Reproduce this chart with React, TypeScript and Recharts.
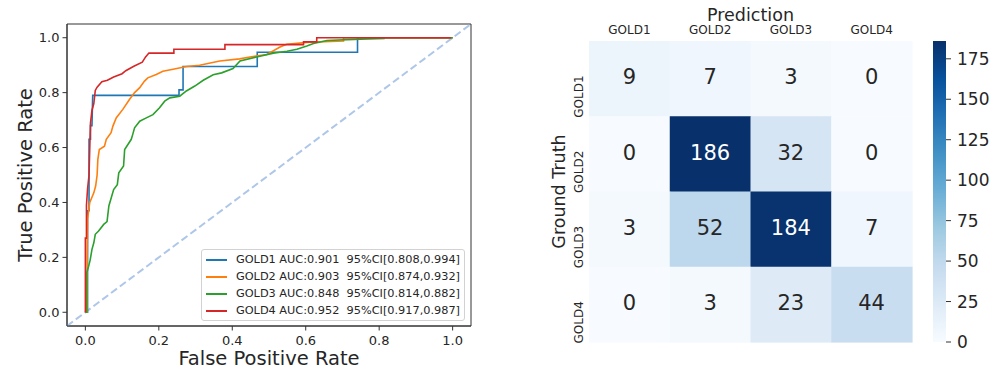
import {
  LineChart,
  Line,
  XAxis,
  YAxis,
  ReferenceLine,
  ReferenceArea,
  Legend,
  ScatterChart,
  Scatter,
  BarChart,
  Bar,
} from "recharts";

const FONT = "'DejaVu Sans', sans-serif";
const TEXT = "#262626";
const AXIS = "#333333";

// ROC panel
const classNames = ["GOLD1", "GOLD2", "GOLD3", "GOLD4"];
const rocColors = ["#1f77b4", "#ff7f0e", "#2ca02c", "#d62728"];
const aucValues = ["0.901", "0.903", "0.848", "0.952"];
const ciValues = ["[0.808,0.994]", "[0.874,0.932]", "[0.814,0.882]", "[0.917,0.987]"];
const rocTicks = [0, 0.2, 0.4, 0.6, 0.8, 1.0];
const rocDomain = [-0.05, 1.05];

// [fpr, tpr] pairs
const gold1Roc = [
  [0, 0], [0.006, 0], [0.006, 0.37], [0.01, 0.37], [0.01, 0.63], [0.014, 0.63],
  [0.014, 0.68], [0.018, 0.68], [0.02, 0.79], [0.255, 0.79], [0.255, 0.81],
  [0.266, 0.81], [0.266, 0.895], [0.468, 0.895], [0.468, 0.947], [0.741, 0.947],
  [0.741, 1.0], [1.0, 1.0],
];
const gold2Roc = [
  [0, 0], [0.005, 0], [0.005, 0.2], [0.006, 0.34], [0.012, 0.4], [0.023, 0.435],
  [0.028, 0.46], [0.032, 0.5], [0.034, 0.557], [0.038, 0.593], [0.052, 0.605],
  [0.057, 0.63], [0.07, 0.654], [0.075, 0.678], [0.084, 0.708], [0.102, 0.739],
  [0.12, 0.775], [0.134, 0.8], [0.148, 0.818], [0.161, 0.842], [0.17, 0.854],
  [0.193, 0.866], [0.211, 0.878], [0.239, 0.885], [0.275, 0.895], [0.311, 0.9],
  [0.366, 0.915], [0.42, 0.923], [0.448, 0.93], [0.494, 0.939], [0.53, 0.966],
  [0.548, 0.976], [0.612, 0.984], [0.703, 0.988], [0.703, 1.0], [1.0, 1.0],
];
const gold3Roc = [
  [0, 0], [0.004, 0], [0.004, 0.145], [0.009, 0.168], [0.013, 0.19], [0.018, 0.229],
  [0.023, 0.253], [0.027, 0.284], [0.036, 0.296], [0.05, 0.32], [0.059, 0.33],
  [0.064, 0.387], [0.077, 0.447], [0.087, 0.465], [0.091, 0.508], [0.104, 0.533],
  [0.107, 0.593], [0.125, 0.63], [0.129, 0.648], [0.134, 0.672], [0.148, 0.696],
  [0.166, 0.708], [0.184, 0.72], [0.202, 0.745], [0.216, 0.769], [0.23, 0.781],
  [0.257, 0.787], [0.275, 0.806], [0.298, 0.824], [0.321, 0.845], [0.348, 0.865],
  [0.371, 0.872], [0.402, 0.888], [0.421, 0.915], [0.466, 0.93], [0.512, 0.944],
  [0.549, 0.951], [0.576, 0.958], [0.603, 0.97], [0.621, 0.979], [0.658, 0.99],
  [0.749, 0.995], [0.813, 0.997], [0.813, 1.0], [1.0, 1.0],
];
const gold4Roc = [
  [0, 0], [0, 0.27], [0.003, 0.27], [0.003, 0.39], [0.006, 0.45], [0.01, 0.5],
  [0.012, 0.6], [0.014, 0.69], [0.018, 0.736], [0.023, 0.76], [0.027, 0.808],
  [0.032, 0.82], [0.045, 0.84], [0.06, 0.845], [0.077, 0.857], [0.1, 0.869],
  [0.11, 0.88], [0.132, 0.896], [0.155, 0.911], [0.164, 0.93], [0.173, 0.944],
  [0.241, 0.944], [0.241, 0.958], [0.38, 0.958], [0.38, 0.975], [0.594, 0.975],
  [0.594, 0.985], [0.63, 0.985], [0.63, 1.0], [0.995, 1.0],
];
const rocCurves = [gold1Roc, gold2Roc, gold3Roc, gold4Roc];

// confusion matrix panel: rows = ground truth, cols = prediction
const confusionRows = [
  [9, 7, 3, 0],
  [0, 186, 32, 0],
  [3, 52, 184, 7],
  [0, 3, 23, 44],
];
const colorbarTicks = [0, 25, 50, 75, 100, 125, 150, 175];

// matplotlib "Blues"
const BLUES = [
  [247, 251, 255], [222, 235, 247], [198, 219, 239], [158, 202, 225], [107, 174, 214],
  [66, 146, 198], [33, 113, 181], [8, 81, 156], [8, 48, 107],
];

function blues(t: number) {
  const c = Math.max(0, Math.min(1, t)) * (BLUES.length - 1);
  const i = Math.min(Math.floor(c), BLUES.length - 2);
  const f = c - i;
  const rgb = BLUES[i].map((v, k) => Math.round(v + (BLUES[i + 1][k] - v) * f));
  return `rgb(${rgb[0]},${rgb[1]},${rgb[2]})`;
}

const colorMax = Math.max(...confusionRows.flat());
const cells = confusionRows.flatMap((row, i) =>
  row.map((value, j) => ({ col: j + 0.5, row: i + 0.5, value }))
);
const gridTicks = classNames.map((_, i) => i + 0.5);

const fmt1 = (v: number) => v.toFixed(1);

const RocLegend = ({ payload }: any) => (
  <div
    style={{
      boxSizing: "border-box",
      width: "100%",
      border: "1px solid #d2d2d2",
      borderRadius: 3,
      background: "rgba(255,255,255,0.85)",
      padding: "1px 4px",
      fontFamily: FONT,
      fontSize: 11.3,
      color: TEXT,
    }}
  >
    {(payload || []).map((item: any, i: number) => (
      <div key={item.value} style={{ display: "flex", alignItems: "center", height: 17 }}>
        <span
          style={{
            display: "inline-block",
            width: 24,
            height: 2,
            background: rocColors[i],
            marginRight: 9,
          }}
        />
        <span style={{ whiteSpace: "pre" }}>{item.value}</span>
      </div>
    ))}
  </div>
);

// heatmap plot box (chart coordinates)
const HM_W = 323;
const HM_H = 301;
const CELL_W = HM_W / 4;
const CELL_H = HM_H / 4;

const HeatCell = (props: any) => {
  const { cx, cy, payload } = props;
  const dark = payload.value / colorMax > 0.5;
  return (
    <g>
      <rect
        x={cx - CELL_W / 2}
        y={cy - CELL_H / 2}
        width={CELL_W + 0.6}
        height={CELL_H + 0.6}
        fill={blues(payload.value / colorMax)}
      />
      <text
        x={cx}
        y={cy}
        dy="0.27em"
        textAnchor="middle"
        fontSize={21}
        fontFamily={FONT}
        fill={dark ? "#ffffff" : TEXT}
      >
        {payload.value}
      </text>
    </g>
  );
};

const RowTick = ({ x, y, payload }: any) => {
  const cy = y + 18;
  return (
    <text
      x={x}
      y={cy}
      transform={`rotate(-90 ${x} ${cy})`}
      textAnchor="middle"
      fontSize={12}
      fontFamily={FONT}
      fill={TEXT}
    >
      {classNames[Math.floor(payload.value)]}
    </text>
  );
};

// gradient offsets top (0) to bottom (1); top is the darkest colour
const gradientOffsets = BLUES.map((_, k) => k / (BLUES.length - 1));

export default function App() {
  return (
    <div style={{ position: "absolute", left: 0, top: 0, width: 1005, height: 370, background: "#fff" }}>
      {/* ROC curves */}
      <div style={{ position: "absolute", left: 0, top: 0 }}>
        <LineChart width={480} height={370} margin={{ top: 24, right: 9, bottom: 4, left: 22 }}>
          <XAxis
            type="number"
            dataKey="fpr"
            domain={rocDomain}
            ticks={rocTicks}
            tickFormatter={fmt1}
            allowDataOverflow
            height={40}
            tickSize={4.5}
            tickMargin={5}
            stroke={AXIS}
            tick={{ fill: TEXT, fontSize: 13, fontFamily: FONT }}
            label={{
              content: () => (
                <text x={269} y={365} textAnchor="middle" fontSize={19.5} fontFamily={FONT} fill={TEXT}>
                  False Positive Rate
                </text>
              ),
            }}
          />
          <YAxis
            type="number"
            dataKey="tpr"
            domain={rocDomain}
            ticks={rocTicks}
            tickFormatter={fmt1}
            allowDataOverflow
            width={45}
            tickSize={4.5}
            tickMargin={3}
            stroke={AXIS}
            tick={{ fill: TEXT, fontSize: 13, fontFamily: FONT }}
            label={{
              content: () => (
                <text
                  x={31.5}
                  y={175}
                  transform="rotate(-90 31.5 175)"
                  textAnchor="middle"
                  fontSize={19.5}
                  fontFamily={FONT}
                  fill={TEXT}
                >
                  True Positive Rate
                </text>
              ),
            }}
          />
          <ReferenceArea
            x1={rocDomain[0]}
            x2={rocDomain[1]}
            y1={rocDomain[0]}
            y2={rocDomain[1]}
            fill="none"
            fillOpacity={0}
            stroke={AXIS}
            strokeWidth={1}
            ifOverflow="visible"
          />
          <ReferenceLine
            segment={[{ x: rocDomain[0], y: rocDomain[0] }, { x: rocDomain[1], y: rocDomain[1] }]}
            stroke="#aec7e8"
            strokeWidth={2}
            strokeDasharray="7.4 3.6"
            ifOverflow="visible"
          />
          {rocCurves.map((pairs, i) => (
            <Line
              key={classNames[i]}
              data={pairs.map(([fpr, tpr]) => ({ fpr, tpr }))}
              dataKey="tpr"
              name={`${classNames[i]} AUC:${aucValues[i]}  95%CI${ciValues[i]}`}
              type="linear"
              stroke={rocColors[i]}
              strokeWidth={1.6}
              dot={false}
              activeDot={false}
              isAnimationActive={false}
            />
          ))}
          <Legend
            layout="vertical"
            align="center"
            verticalAlign="middle"
            content={RocLegend}
            wrapperStyle={{ left: 201, top: 249, width: 264 }}
          />
        </LineChart>
      </div>

      {/* confusion matrix */}
      <div style={{ position: "absolute", left: 530, top: 0 }}>
        <ScatterChart width={400} height={370} margin={{ top: 19, right: 18, bottom: 28, left: 19 }}>
          <XAxis
            type="number"
            dataKey="col"
            orientation="top"
            domain={[0, 4]}
            ticks={gridTicks}
            tickFormatter={(v: number) => classNames[Math.floor(v)]}
            height={22}
            tickSize={0}
            tickMargin={7}
            axisLine={false}
            tickLine={false}
            tick={{ fill: TEXT, fontSize: 12, fontFamily: FONT }}
            label={{
              content: () => (
                <text x={220.5} y={20.5} textAnchor="middle" fontSize={17.5} fontFamily={FONT} fill={TEXT}>
                  Prediction
                </text>
              ),
            }}
          />
          <YAxis
            type="number"
            dataKey="row"
            domain={[0, 4]}
            reversed
            ticks={gridTicks}
            width={40}
            tickSize={0}
            tickMargin={6}
            axisLine={false}
            tickLine={false}
            tick={<RowTick />}
            label={{
              content: () => (
                <text
                  x={35}
                  y={191.5}
                  transform="rotate(-90 35 191.5)"
                  textAnchor="middle"
                  fontSize={17.5}
                  fontFamily={FONT}
                  fill={TEXT}
                >
                  Ground Truth
                </text>
              ),
            }}
          />
          <Scatter data={cells} shape={HeatCell} isAnimationActive={false} />
        </ScatterChart>
      </div>

      {/* colorbar */}
      <div style={{ position: "absolute", left: 933, top: 0 }}>
        <BarChart
          width={72}
          height={370}
          data={[{ name: "scale", value: colorMax }]}
          margin={{ top: 41, right: 0, bottom: 28, left: 0 }}
          barCategoryGap={0}
        >
          <defs>
            <linearGradient id="bluesScale" x1="0" y1="0" x2="0" y2="1">
              {gradientOffsets.map((o) => (
                <stop key={o} offset={`${o * 100}%`} stopColor={blues(1 - o)} />
              ))}
            </linearGradient>
          </defs>
          <XAxis dataKey="name" hide />
          <YAxis
            orientation="right"
            type="number"
            domain={[0, colorMax]}
            ticks={colorbarTicks}
            width={59}
            tickSize={5}
            tickMargin={6}
            axisLine={false}
            stroke={AXIS}
            tick={{ fill: TEXT, fontSize: 17, fontFamily: FONT }}
          />
          <Bar dataKey="value" fill="url(#bluesScale)" isAnimationActive={false} />
        </BarChart>
      </div>
    </div>
  );
}
